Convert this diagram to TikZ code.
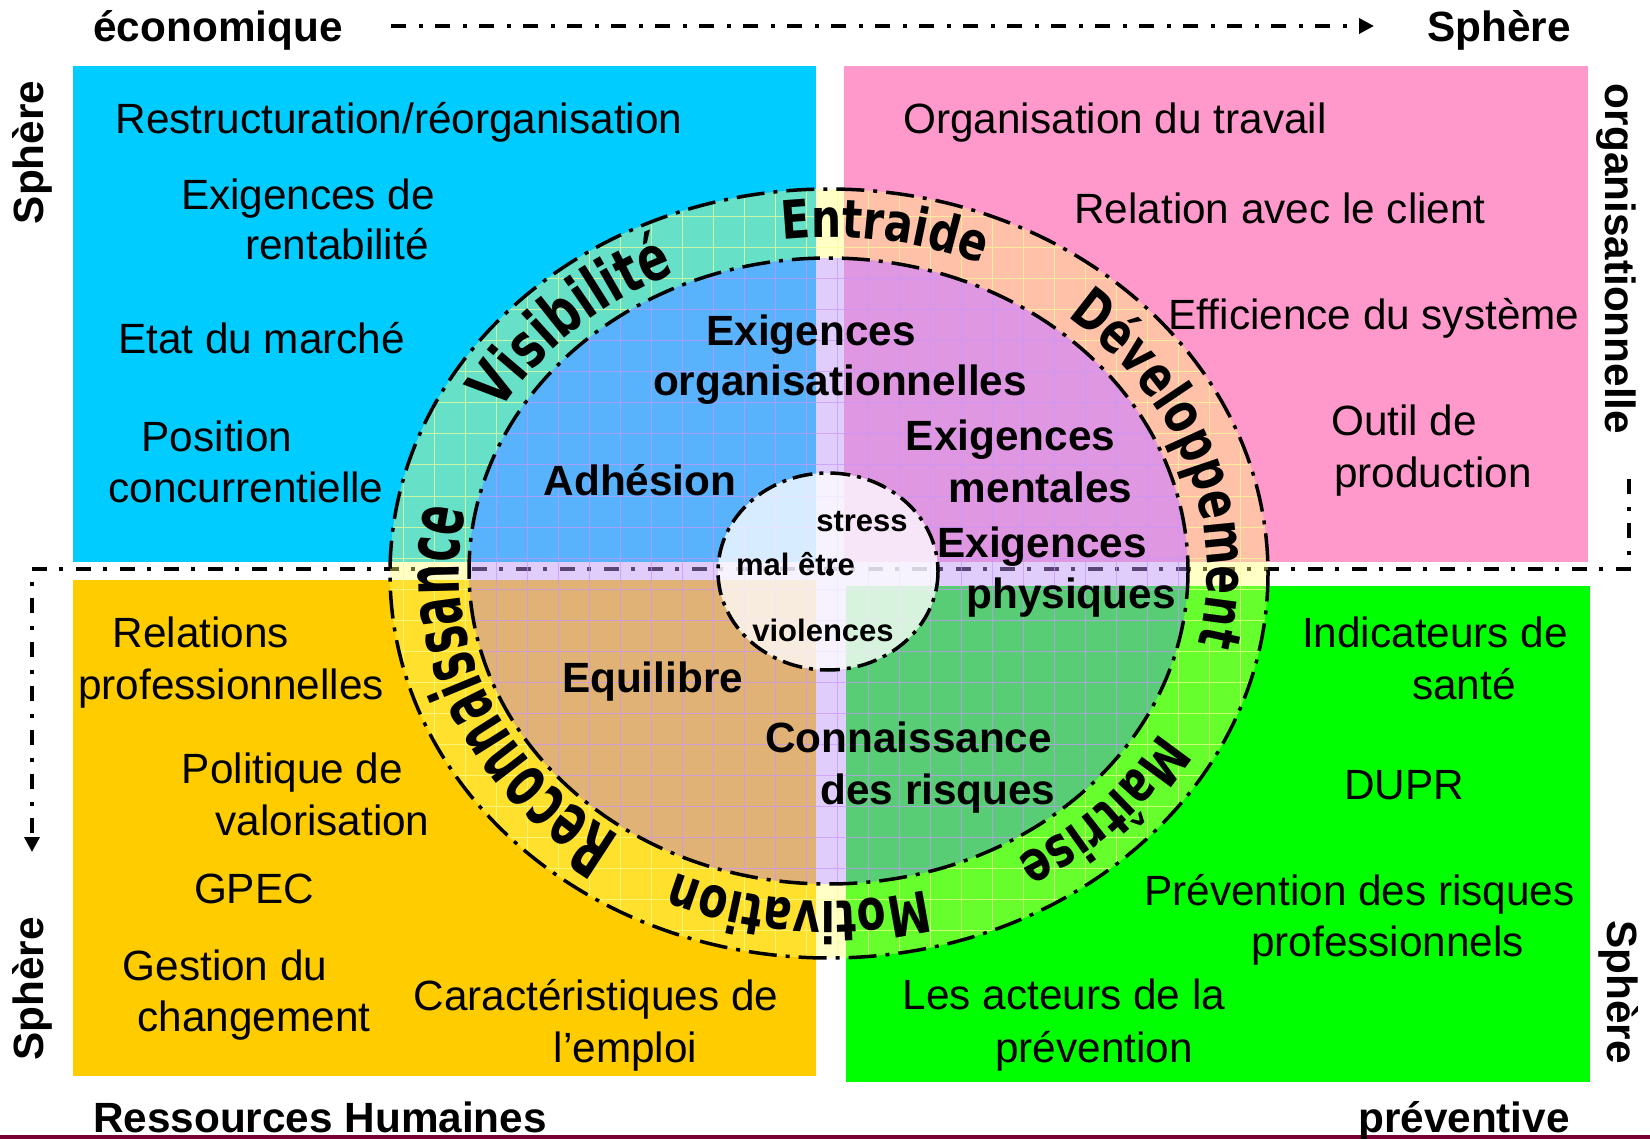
\documentclass[tikz,border=0pt]{standalone}
\usepackage{fontspec}
\setmainfont{Liberation Sans}
\newfontfamily\ringA{DejaVu Sans}[FakeStretch=0.8]
\newfontfamily\ringB{DejaVu Sans}[FakeStretch=0.74]
\newfontfamily\ringC{DejaVu Sans}[FakeStretch=0.58]
\usetikzlibrary{arrows.meta,decorations.text}

\definecolor{qblue}{RGB}{0,204,255}
\definecolor{qpink}{RGB}{255,153,204}
\definecolor{qorange}{RGB}{255,204,0}
\definecolor{qgreen}{RGB}{0,255,0}
\definecolor{ringyellow}{RGB}{255,255,114}
\definecolor{corelav}{RGB}{190,150,250}
\definecolor{gridlav}{RGB}{200,150,255}
\definecolor{gridyel}{RGB}{245,255,150}
\definecolor{barmaroon}{RGB}{120,0,50}

\newcommand\bodysize{\fontsize{42.3}{50.5}\selectfont}
\newcommand\smallsize{\fontsize{31}{37}\selectfont}
% lettering of the ring words
\newcommand\rtEntraide{\ringA\bfseries\fontsize{53}{60}\selectfont}
\newcommand\rtSoft{\ringB\bfseries\fontsize{57}{64}\selectfont}
\newcommand\rtDev{\ringB\bfseries\fontsize{57}{64}\selectfont}
\newcommand\rtVis{\ringB\bfseries\fontsize{62}{70}\selectfont}
\newcommand\rtRec{\ringC\bfseries\fontsize{74}{82}\selectfont}

\begin{document}
\begin{tikzpicture}[x=1pt,y=-1pt,
  txt/.style={anchor=base, inner sep=0pt, font=\bodysize},
  btxt/.style={anchor=base, inner sep=0pt, font=\bodysize\bfseries},
  ctxt/.style={anchor=base, inner sep=0pt, font=\smallsize\bfseries},
  axisline/.style={line width=3.5pt, dash pattern=on 15pt off 13pt on 4pt off 12pt},
  rim/.style={line width=3.5pt, dash pattern=on 28pt off 9pt on 4pt off 9pt},
  corerim/.style={line width=3.5pt, dash pattern=on 20pt off 7pt on 4pt off 7pt},
  tip/.style={-{Triangle[length=15pt,width=15pt]}},
  ringword/.style={decorate, decoration={text along path, text align=center, text={#1}}}
]
% page
\fill[white] (0,0) rectangle (1650,1139);
\useasboundingbox (0,0) rectangle (1650,1139);

% the four spheres
\fill[qblue]   (73,66)  rectangle (815.6,562);
\fill[qpink]   (844,66) rectangle (1588,562);
\fill[qorange] (73,580) rectangle (815.6,1075.7);
\fill[qgreen]  (846,586) rectangle (1590,1081.7);

% bottom bar
\fill[barmaroon] (0,1135) rectangle (1650,1139);

% cycle of spheres
\coordinate (ta) at (391,26);
\coordinate (tb) at (1374,26);
\draw[axisline, tip] (ta) -- (tb);
\coordinate (rtop) at (1629,479);
\coordinate (rcorner) at (1629,569);
\coordinate (lcorner) at (32,569);
\coordinate (lend) at (32,852);
\draw[axisline, tip] (rtop) -- (rcorner) -- (lcorner) -- (lend);

% outer ring and core
\fill[ringyellow, opacity=0.4, even odd rule]
  (829,573.5) ellipse[x radius=439, y radius=384.5]
  (828.5,571) ellipse[x radius=359.5, y radius=313];
\fill[corelav, opacity=0.47] (828.5,571) ellipse[x radius=359.5, y radius=313];

\begin{scope}[even odd rule]
  \clip (829,573.5) ellipse[x radius=439, y radius=384.5]
    (828.5,571) ellipse[x radius=359.5, y radius=313];
  \draw[gridyel, line width=1pt, opacity=0.7] (380,970) grid[step=31pt] (1280,180);
\end{scope}
\begin{scope}
  \clip (828.5,571) ellipse[x radius=359.5, y radius=313];
  \draw[gridlav, line width=1pt, opacity=0.7] (460,900) grid[step=31pt] (1200,250);
\end{scope}

% heart circle
\fill[white, opacity=0.76] (828,571.5) ellipse[x radius=110, y radius=98.5];

\draw[rim] (829,573.5) ellipse[x radius=439, y radius=384.5];
\draw[rim] (828.5,571) ellipse[x radius=359.5, y radius=313];
\draw[corerim] (828,571.5) ellipse[x radius=110, y radius=98.5];
\fill (830,572) circle[radius=4pt];

% ring words, read clockwise with their tops outwards
\path[ringword={|\rtEntraide|Entraide}] (829,572) ++(-141:385 and 335)
  arc[start angle=-141, end angle=-21, x radius=385, y radius=335];
\path[ringword={|\rtVis|Visibilité}] (829,572) ++(-195:377 and 327)
  arc[start angle=-195, end angle=-75, x radius=377, y radius=327];
\path[ringword={|\rtDev|Développement}] (829,572) ++(-78:378 and 328)
  arc[start angle=-78, end angle=42, x radius=378, y radius=328];
\path[ringword={|\rtSoft|Maîtrise}] (829,572) ++(-18:379 and 329)
  arc[start angle=-18, end angle=102, x radius=379, y radius=329];
\path[ringword={|\rtSoft|Motivation}] (829,572) ++(35:379 and 329)
  arc[start angle=35, end angle=155, x radius=379, y radius=329];
\path[ringword={|\rtRec|Reconnaissance}] (829,572) ++(99:370 and 320)
  arc[start angle=99, end angle=219, x radius=370, y radius=320];

% sphere names
\node[btxt] (eco) at (218,42) {économique};
\node[btxt] (sphOrg) at (1499,42) {Sphère};
\node[btxt, rotate=90] (sphEco) at (43,152.5) {Sphère};
\node[btxt, rotate=-90] (org) at (1605,259) {organisationnelle};
\node[btxt, rotate=90] (sphRH) at (43,989) {Sphère};
\node[btxt, rotate=-90] (sphPrev) at (1607,992) {Sphère};
\node[btxt] (rh) at (320,1132) {Ressources Humaines};
\node[btxt] (prev) at (1464,1132) {préventive};

% economic sphere
\node[txt] (e1) at (399,134) {Restructuration/réorganisation};
\node[txt] (e2a) at (308,210) {Exigences de};
\node[txt] (e2b) at (337,260) {rentabilité};
\node[txt] (e3) at (261.5,354) {Etat du marché};
\node[txt] (e4a) at (217,452) {Position};
\node[txt] (e4b) at (246,502) {concurrentielle};

% organisational sphere
\node[txt] (o1) at (1115,134) {Organisation du travail};
\node[txt] (o2) at (1280,224) {Relation avec le client};
\node[txt] (o3) at (1374,330) {Efficience du système};
\node[txt] (o4a) at (1404,436) {Outil de};
\node[txt] (o4b) at (1433,487.5) {production};

% human resources sphere
\node[txt] (h1a) at (201,647) {Relations};
\node[txt] (h1b) at (231,699) {professionnelles};
\node[txt] (h2a) at (292.5,783) {Politique de};
\node[txt] (h2b) at (322.5,835) {valorisation};
\node[txt] (h3) at (254,903) {GPEC};
\node[txt] (h4a) at (225,980) {Gestion du};
\node[txt] (h4b) at (254,1031.5) {changement};
\node[txt] (h5a) at (596,1010.5) {Caractéristiques de};
\node[txt] (h5b) at (625.5,1062) {l’emploi};

% preventive sphere
\node[txt] (p1a) at (1435,647) {Indicateurs de};
\node[txt] (p1b) at (1464,699) {santé};
\node[txt] (p2) at (1404,799) {DUPR};
\node[txt] (p3a) at (1359.5,905) {Prévention des risques};
\node[txt] (p3b) at (1387.5,956) {professionnels};
\node[txt] (p4a) at (1064,1009) {Les acteurs de la};
\node[txt] (p4b) at (1094,1062) {prévention};

% core
\node[btxt] (c1a) at (811,345.4) {Exigences};
\node[btxt] (c1b) at (840,396) {organisationnelles};
\node[btxt] (c2) at (640,496) {Adhésion};
\node[btxt] (c3a) at (1010.6,450.6) {Exigences};
\node[btxt] (c3b) at (1040.6,502) {mentales};
\node[btxt] (c4a) at (1042,557) {Exigences};
\node[btxt] (c4b) at (1071,608.5) {physiques};
\node[btxt] (c5) at (652.5,692.7) {Equilibre};
\node[btxt] (c6a) at (908.6,752.7) {Connaissance};
\node[btxt] (c6b) at (938,804) {des risques};

% heart
\node[ctxt] (s1) at (862,531) {stress};
\node[ctxt] (s2) at (795.5,575.5) {mal être};
\node[ctxt] (s3) at (823,641.5) {violences};
\end{tikzpicture}
\end{document}
